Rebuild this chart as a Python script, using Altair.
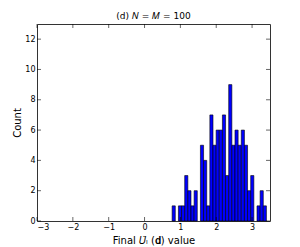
import altair as alt
import pandas as pd

# Histogram counts (30 bins)
counts = [1, 0, 1, 1, 3, 2, 1, 2, 0, 5, 4, 1, 7, 5, 6, 6, 7, 3, 9, 5, 6, 5, 6, 5, 2, 3, 0, 1, 2, 1]
bin_start = 0.77
bin_end = 3.40
x_ticks = [-3, -2, -1, 0, 1, 2, 3]
y_ticks = [0, 2, 4, 6, 8, 10, 12]
x_domain = [-3, 3.5]
y_domain = [0, 13]

n = len(counts)
bw = (bin_end - bin_start) / n
df = pd.DataFrame({
    "x0": [bin_start + i * bw for i in range(n)],
    "x1": [bin_start + (i + 1) * bw for i in range(n)],
    "count": counts,
})
df = df[df["count"] > 0]

W, H = 233, 197
xs = alt.Scale(domain=x_domain, nice=False, zero=False)
ys = alt.Scale(domain=y_domain, nice=False)
minus = "replace(datum.label, '-', '\u2212')"

x_axis = alt.Axis(values=x_ticks, format="d", labelExpr=minus, tickSize=0, labelPadding=2, grid=False,
                  domain=False, title="Final \U0001D448\u0302\u2097 (\U0001D41D) value", titlePadding=4)
y_axis = alt.Axis(values=y_ticks, format="d", tickSize=0, labelPadding=2, grid=False, domain=False,
                  title="Count", titlePadding=2)

bars = alt.Chart(df).mark_rect(color="#0000ff", stroke="black", strokeWidth=0.6).encode(
    x=alt.X("x0:Q", scale=xs, axis=x_axis),
    x2="x1",
    y=alt.Y("count:Q", scale=ys, axis=y_axis),
    y2=alt.datum(0),
)

xt = pd.DataFrame({"t": x_ticks})
yt = pd.DataFrame({"t": y_ticks})
tk = dict(color="black", strokeWidth=0.6)
xb = alt.Chart(xt).mark_rule(**tk).encode(x=alt.X("t:Q", scale=xs, axis=x_axis), y=alt.value(H), y2=alt.value(H - 4))
xtop = alt.Chart(xt).mark_rule(**tk).encode(x=alt.X("t:Q", scale=xs, axis=x_axis), y=alt.value(0), y2=alt.value(4))
yl = alt.Chart(yt).mark_rule(**tk).encode(y=alt.Y("t:Q", scale=ys, axis=y_axis), x=alt.value(0), x2=alt.value(4))
yr = alt.Chart(yt).mark_rule(**tk).encode(y=alt.Y("t:Q", scale=ys, axis=y_axis), x=alt.value(W), x2=alt.value(W - 4))

chart = alt.layer(bars, xb, xtop, yl, yr).properties(
    width=W, height=H,
    title=alt.TitleParams("(d) \U0001D441 = \U0001D440 = 100", fontSize=9, font="DejaVu Sans",
                          fontWeight="normal", offset=3),
    autosize=alt.AutoSizeParams(type="none"),
    padding={"left": 29, "top": 16, "right": 22, "bottom": 26},
).configure_view(stroke="#333333", strokeWidth=1).configure_axis(
    labelFont="DejaVu Sans", labelFontSize=8, labelColor="black",
    titleFont="DejaVu Sans", titleFontSize=10, titleFontWeight="normal", titleColor="black",
)

chart.save("out.html", embed_options={"renderer": "svg", "actions": False})
